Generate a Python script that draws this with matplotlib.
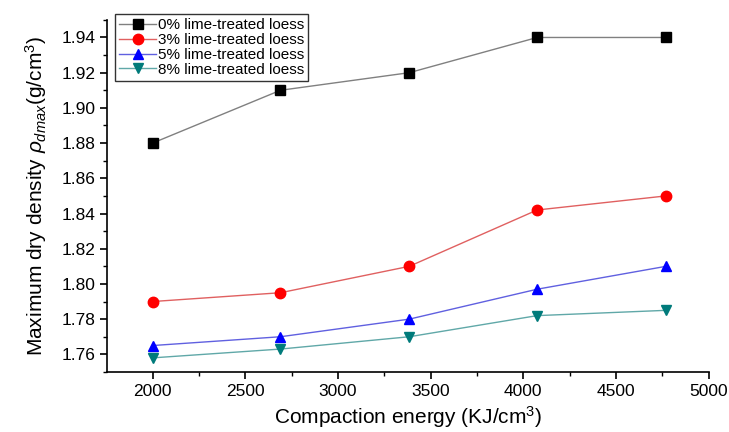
import matplotlib
matplotlib.use("Agg")
import matplotlib.pyplot as plt
from matplotlib.ticker import MultipleLocator

plt.rcParams["font.family"] = ["Liberation Sans", "DejaVu Sans"]
plt.rcParams["mathtext.fontset"] = "custom"
plt.rcParams["mathtext.rm"] = "Liberation Sans"
plt.rcParams["mathtext.it"] = "Liberation Sans:italic"

# 擊實功 (x) 與最大乾密度
energy = [2000, 2690, 3385, 4075, 4770]
lime_0 = [1.88, 1.91, 1.92, 1.94, 1.94]
lime_3 = [1.79, 1.795, 1.81, 1.842, 1.85]
lime_5 = [1.765, 1.77, 1.78, 1.797, 1.81]
lime_8 = [1.758, 1.763, 1.77, 1.782, 1.785]
labels = ["0% lime-treated loess", "3% lime-treated loess",
          "5% lime-treated loess", "8% lime-treated loess"]

fig = plt.figure(figsize=(7.29, 4.32), dpi=100)
ax = fig.add_axes([0.147, 0.139, 0.825, 0.815])

ax.plot(energy, lime_0, "-s", color="#808080", mfc="black", mec="black", ms=6.5, lw=1, label=labels[0])
ax.plot(energy, lime_3, "-o", color="#e06060", mfc="red", mec="red", ms=7.5, lw=1, label=labels[1])
ax.plot(energy, lime_5, "-^", color="#6060e0", mfc="blue", mec="blue", ms=7.5, lw=1, label=labels[2])
ax.plot(energy, lime_8, "-v", color="#60a8a8", mfc="#007b7b", mec="#007b7b", ms=7.5, lw=1, label=labels[3])

ax.set_xlim(1755, 5000)
ax.set_ylim(1.75, 1.95)
ax.xaxis.set_major_locator(MultipleLocator(500))
ax.xaxis.set_minor_locator(MultipleLocator(250))
ax.yaxis.set_major_locator(MultipleLocator(0.02))
ax.yaxis.set_minor_locator(MultipleLocator(0.01))
ax.yaxis.set_major_formatter(matplotlib.ticker.FormatStrFormatter("%.2f"))

for side in ("top", "right"):
    ax.spines[side].set_visible(False)
for side in ("left", "bottom"):
    ax.spines[side].set_linewidth(1.2)

ax.tick_params(which="major", direction="out", length=5, width=1.2, labelsize=12.5)
ax.tick_params(which="minor", direction="out", length=3, width=1.0)

ax.set_xlabel("Compaction energy (KJ/cm$^3$)", fontsize=15)
ax.set_ylabel(r"Maximum dry density $\rho_{dmax}$(g/cm$^3$)", fontsize=15, labelpad=9)

leg = ax.legend(loc="upper left", bbox_to_anchor=(0.005, 1.03), fontsize=11,
                frameon=True, fancybox=False, edgecolor="black",
                labelspacing=0.05, handlelength=2.4, handletextpad=0.1,
                borderpad=0.3, borderaxespad=0.3)
leg.get_frame().set_linewidth(1.0)

fig.savefig("out.png", dpi=100)
